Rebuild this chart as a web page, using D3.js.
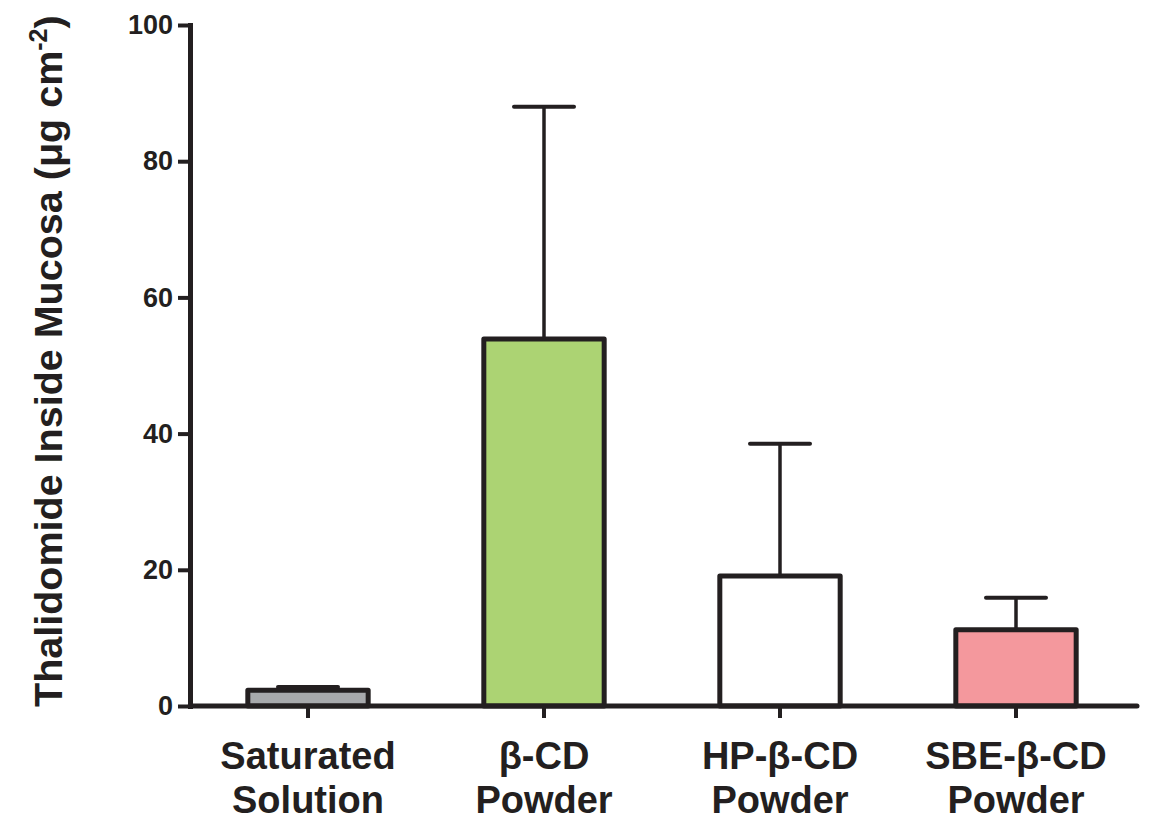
<!DOCTYPE html>
<html>
<head>
<meta charset="utf-8">
<style>
  body { margin: 0; background: #fff; }
  text { font-family: "Liberation Sans", Arial, sans-serif; font-weight: bold; fill: #231f20; }
</style>
</head>
<body>
<div id="chart"></div>
<script src="https://d3js.org/d3.v7.min.js"></script>
<script>
// data
var groups = ["Saturated Solution", "β-CD Powder", "HP-β-CD Powder", "SBE-β-CD Powder"];
var labelLines = [["Saturated", "Solution"], ["β-CD", "Powder"], ["HP-β-CD", "Powder"], ["SBE-β-CD", "Powder"]];
var means = [2.3, 53.9, 19.1, 11.2];
var errors = [0.5, 34.1, 19.4, 4.7];
var colors = ["#a7a9ac", "#acd373", "#ffffff", "#f4989d"];
var yTicks = [0, 20, 40, 60, 80, 100];

var W = 1150, H = 823;
var ink = "#231f20";

var svg = d3.select("#chart").append("svg")
    .attr("width", W)
    .attr("height", H);

var x = d3.scaleBand()
    .domain(groups)
    .range([190, 1134])
    .paddingInner(0.49)
    .paddingOuter(0.245);

var y = d3.scaleLinear()
    .domain([0, 100])
    .range([706, 25]);

// bars
svg.append("g")
  .selectAll("rect")
  .data(groups)
  .enter()
  .append("rect")
    .attr("x", function (d) { return x(d); })
    .attr("y", function (d, i) { return y(means[i]); })
    .attr("width", x.bandwidth())
    .attr("height", function (d, i) { return y(0) - y(means[i]); })
    .style("fill", function (d, i) { return colors[i]; })
    .style("stroke", ink)
    .style("stroke-width", 5)
    .style("stroke-linejoin", "round");

// error bars (upper only)
var eb = svg.append("g").selectAll("g")
  .data(groups)
  .enter()
  .append("g");

eb.append("line")
    .attr("x1", function (d) { return x(d) + x.bandwidth() / 2; })
    .attr("x2", function (d) { return x(d) + x.bandwidth() / 2; })
    .attr("y1", function (d, i) { return y(means[i]); })
    .attr("y2", function (d, i) { return y(means[i] + errors[i]); })
    .style("stroke", ink)
    .style("stroke-width", 3.5);

eb.append("line")
    .attr("x1", function (d) { return x(d) + x.bandwidth() / 2 - 30; })
    .attr("x2", function (d) { return x(d) + x.bandwidth() / 2 + 30; })
    .attr("y1", function (d, i) { return y(means[i] + errors[i]); })
    .attr("y2", function (d, i) { return y(means[i] + errors[i]); })
    .style("stroke", ink)
    .style("stroke-width", 4)
    .style("stroke-linecap", "round");

// Y axis
var yAxis = svg.append("g")
    .attr("transform", "translate(190,0)")
    .call(d3.axisLeft(y).tickValues(yTicks).tickSize(12).tickSizeOuter(0).tickPadding(5));
yAxis.select(".domain").style("stroke", ink).style("stroke-width", 5).style("stroke-linecap", "square");
yAxis.selectAll(".tick line").style("stroke", ink).style("stroke-width", 4);
yAxis.selectAll(".tick text")
    .style("font-size", "27px")
    .style("font-family", "'Liberation Sans', Arial, sans-serif")
    .style("font-weight", "bold")
    .style("fill", ink);

// X axis
var xAxis = svg.append("g")
    .attr("transform", "translate(0," + y(0) + ")")
    .call(d3.axisBottom(x).tickSize(12).tickSizeOuter(0).tickFormat(""));
xAxis.select(".domain")
    .attr("d", "M190,0H1137")
    .style("stroke", ink).style("stroke-width", 5).style("stroke-linecap", "round");
xAxis.selectAll(".tick line").style("stroke", ink).style("stroke-width", 4);

// two-line category labels
svg.append("g")
  .selectAll("text")
  .data(groups)
  .enter()
  .append("text")
    .attr("text-anchor", "middle")
    .style("font-size", "38px")
    .each(function (d, i) {
      var t = d3.select(this);
      labelLines[i].forEach(function (line, k) {
        t.append("tspan")
          .attr("x", x(d) + x.bandwidth() / 2)
          .attr("y", 769 + k * 44)
          .text(line);
      });
    });

// y title
var title = svg.append("text")
    .attr("transform", "translate(62,707) rotate(-90)")
    .attr("text-anchor", "start")
    .style("font-size", "39.5px");
title.append("tspan").text("Thalidomide Inside Mucosa (μg cm");
title.append("tspan").attr("dy", -15).style("font-size", "25px").text("-2");
title.append("tspan").attr("dy", 15).text(")");
</script>
</body>
</html>
